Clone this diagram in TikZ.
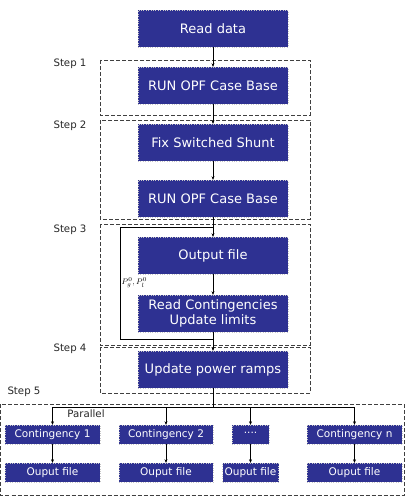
\documentclass[tikz,border=0pt]{standalone}
\usepackage{fontspec}
\setmainfont{DejaVu Sans}
\usetikzlibrary{arrows.meta}
\definecolor{boxblue}{RGB}{46,49,146}
\tikzset{
  mainbox/.style={rectangle, fill=boxblue, draw=gray!45, dotted, text=white,
    minimum width=150pt, minimum height=37pt, inner sep=0pt, align=center,
    font=\fontsize{13}{15}\selectfont},
  smallbox/.style={rectangle, fill=boxblue, draw=gray!45, dotted, text=white,
    minimum height=19pt, inner sep=0pt, align=center,
    font=\fontsize{10.5}{12}\selectfont},
  stepframe/.style={draw=black!75, dash pattern=on 4pt off 2pt, line width=0.9pt},
  steplabel/.style={font=\fontsize{10.2}{12}\selectfont, text=black!85},
}
\begin{document}
\begin{tikzpicture}[x=1pt,y=-1pt,>={Stealth[length=3.5pt,width=3pt]}]
  \useasboundingbox (0,0) rectangle (406,500);

  % step frames
  \draw[stepframe] (100,60) rectangle (310,115);
  \draw[stepframe] (100,120) rectangle (310,219);
  \draw[stepframe] (100,224) rectangle (310,345);
  \draw[stepframe] (100,347) rectangle (310,393);
  \draw[stepframe] (0.5,404) rectangle (404,495);

  \node[steplabel] (s1) at (70,64) {Step 1};
  \node[steplabel] (s2) at (70,126) {Step 2};
  \node[steplabel] (s3) at (70,230) {Step 3};
  \node[steplabel] (s4) at (70,349) {Step 4};
  \node[steplabel] (s5) at (24,392) {Step 5};
  \node[steplabel] (par) at (86,414) {Parallel};

  % main chain
  \node[mainbox] (read) at (213,28.5) {Read data};
  \node[mainbox] (opf1) at (213,85.5) {RUN OPF Case Base};
  \node[mainbox] (shunt) at (213,142.5) {Fix Switched Shunt};
  \node[mainbox] (opf2) at (213,198.5) {RUN OPF Case Base};
  \node[mainbox] (out) at (213,255.5) {Output file};
  \node[mainbox] (readc) at (213,313.5) {Read Contingencies\\Update limits};
  \node[mainbox] (ramps) at (213,369.5) {Update power ramps};

  \draw[->] (read) -- (opf1);
  \draw[->] (opf1) -- (shunt);
  \draw[->] (shunt) -- (opf2);
  \draw[->] (opf2) -- (out);
  \draw[->] (out) -- (readc);
  \draw[->] (readc) -- (ramps);

  % feedback loop
  \coordinate (lptop) at (213,227);
  \coordinate (lpbot) at (213,339);
  \coordinate (lpx) at (120,0);
  \draw (lpbot) -- (lpbot -| lpx) -- (lptop -| lpx) -- (lptop);
  \node[font=\footnotesize, anchor=west, inner sep=1pt] (pl) at (120.5,283) {$P_g^0,P_l^0$};

  % contingencies
  \node[smallbox, minimum width=95pt] (c1) at (52.5,434.5) {Contingency 1};
  \node[smallbox, minimum width=94pt] (c2) at (166,434.5) {Contingency 2};
  \node[smallbox, minimum width=37pt] (c3) at (250.5,434.5) {····};
  \node[smallbox, minimum width=95pt] (cn) at (354.5,434.5) {Contingency n};

  \node[smallbox, minimum width=95pt] (o1) at (52.5,472.5) {Ouput file};
  \node[smallbox, minimum width=94pt] (o2) at (166,472.5) {Ouput file};
  \node[smallbox, minimum width=56pt] (o3) at (250.5,472.5) {Ouput file};
  \node[smallbox, minimum width=95pt] (on) at (354.5,472.5) {Ouput file};

  \coordinate (split) at (213,407);
  \draw (ramps) -- (split);
  \draw (c1.north |- split) -- (cn.north |- split);
  \foreach \c/\o in {c1/o1, c2/o2, c3/o3, cn/on} {
    \draw[->] (\c.north |- split) -- (\c.north);
    \draw[->] (\c) -- (\o);
  }

\end{tikzpicture}
\end{document}
